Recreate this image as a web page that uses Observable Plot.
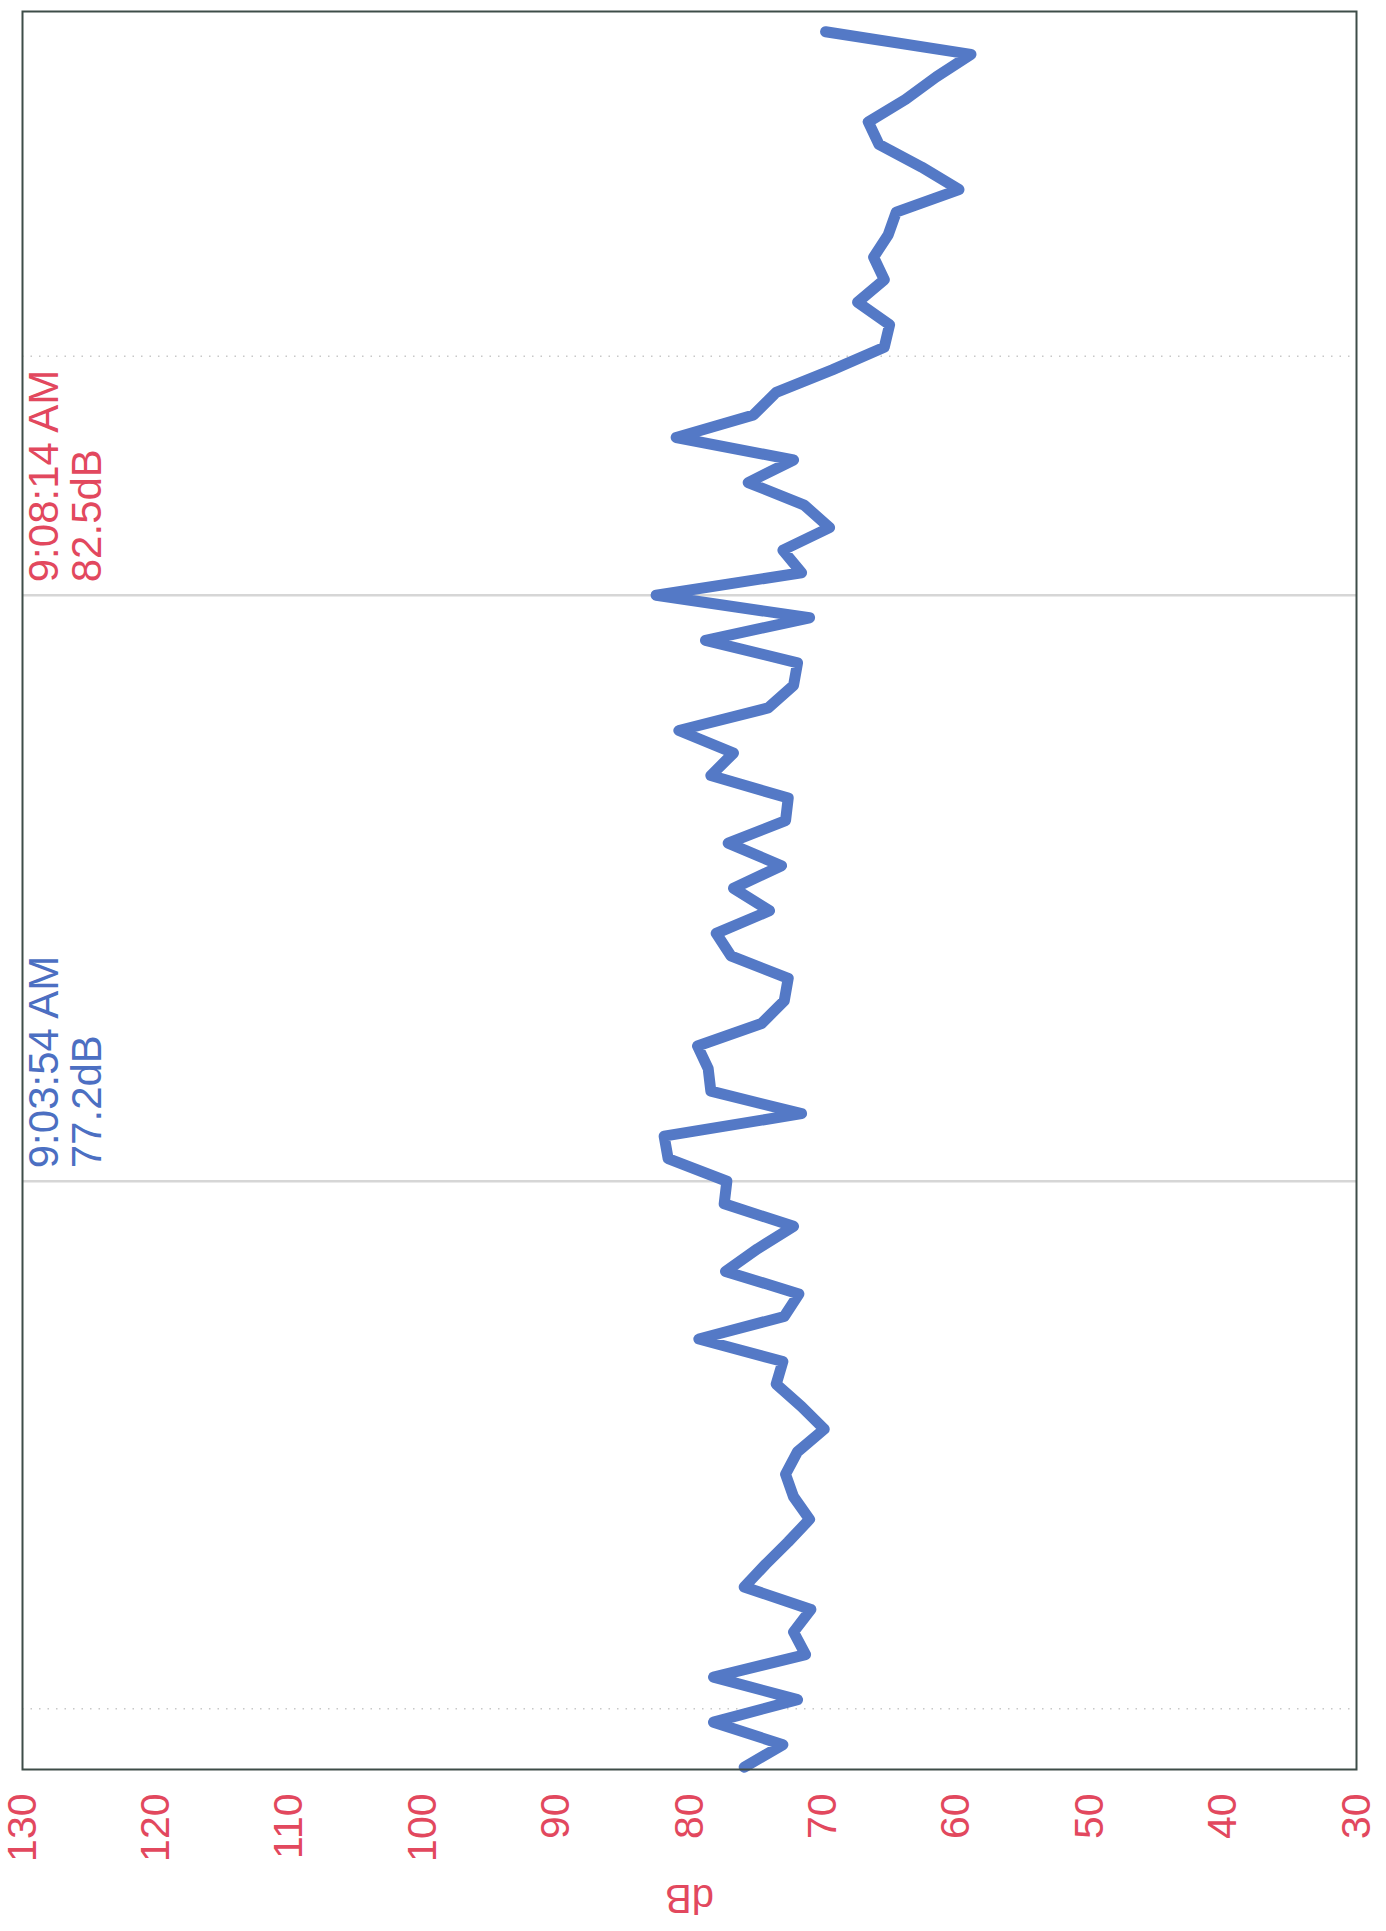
<!DOCTYPE html>
<html>
<head>
<meta charset="utf-8">
<script src="https://cdn.jsdelivr.net/npm/d3@7"></script>
<script src="https://cdn.jsdelivr.net/npm/@observablehq/plot@0.6"></script>
<style>
  html, body { margin: 0; padding: 0; background: #ffffff; }
  svg { display: block; }
</style>
</head>
<body>
<div id="chart"></div>
<script>
// Sample times (10-second readings), oldest first
const sampleTimes = [
  "08:59:34","08:59:44","08:59:54",
  "09:00:04","09:00:14","09:00:24","09:00:34","09:00:44","09:00:54",
  "09:01:04","09:01:14","09:01:24","09:01:34","09:01:44","09:01:54",
  "09:02:04","09:02:14","09:02:24","09:02:34","09:02:44","09:02:54",
  "09:03:04","09:03:14","09:03:24","09:03:34","09:03:44","09:03:54",
  "09:04:04","09:04:14","09:04:24","09:04:34","09:04:44","09:04:54",
  "09:05:04","09:05:14","09:05:24","09:05:34","09:05:44","09:05:54",
  "09:06:04","09:06:14","09:06:24","09:06:34","09:06:44","09:06:54",
  "09:07:04","09:07:14","09:07:24","09:07:34","09:07:44","09:07:54",
  "09:08:04","09:08:14","09:08:24","09:08:34","09:08:44","09:08:54",
  "09:09:04","09:09:14","09:09:24","09:09:34","09:09:44","09:09:54",
  "09:10:04","09:10:14","09:10:24","09:10:34","09:10:44","09:10:54",
  "09:11:04","09:11:14","09:11:24","09:11:34","09:11:44","09:11:54",
  "09:12:04","09:12:14","09:12:24"
];
// Sound level readings (dB), same order
const levels = [
  75.9, 73.0, 78.2,
  71.9, 78.2, 71.3, 72.2, 70.9, 75.9,
  74.3, 72.6, 71.0, 72.2, 72.8, 71.9,
  69.9, 71.6, 73.5, 73.0, 79.3, 72.9,
  71.8, 77.3, 74.9, 72.2, 77.4, 77.2,
  81.6, 81.9, 71.6, 78.4, 78.6, 79.4,
  74.6, 72.9, 72.6, 76.9, 78.0, 74.0,
  76.7, 73.1, 77.1, 72.8, 72.6, 78.4,
  76.7, 80.8, 74.1, 72.2, 71.9, 78.8,
  71.0, 82.5, 71.6, 73.0, 69.5, 71.4,
  75.6, 72.2, 81.0, 75.2, 73.5, 69.3,
  65.4, 65.0, 67.4, 65.4, 66.2, 65.1,
  64.5, 59.8, 62.6, 65.8, 66.6, 63.8,
  61.5, 58.9, 69.8
];
// dB axis ticks
const dbTicks = [130, 120, 110, 100, 90, 80, 70, 60, 50, 40, 30];
const dbDomain = [130, 30];
const timeDomain = ["08:59:33", "09:12:33"];
const gridTimes = ["09:00:00", "09:10:00"];
// Cursor markers
const markerTimes = ["09:03:54", "09:08:14"];
const markerLabels = ["9:03:54 AM\n77.2dB", "9:08:14 AM\n82.5dB"];
const markerColors = ["#4c6fc2", "#e2485e"];
const axisLabel = "dB";

const parseT = s => {
  const [h, m, sec] = s.split(":").map(Number);
  return new Date(2000, 0, 1, h, m, sec);
};
const data = sampleTimes.map((t, i) => ({time: parseT(t), db: levels[i]}));
const markers = markerTimes.map((t, i) => ({time: parseT(t), label: markerLabels[i], color: markerColors[i]}));

const tickColor = "#e2485e";

const chart = Plot.plot({
  width: 1386,
  height: 1931,
  marginLeft: 22,
  marginRight: 30,
  marginTop: 11,
  marginBottom: 162,
  style: {fontFamily: "'Liberation Sans', Arial, sans-serif", background: "#ffffff"},
  x: {domain: dbDomain, axis: null},
  y: {type: "time", domain: timeDomain.map(parseT), axis: null},
  color: {type: "identity"},
  marks: [
    Plot.ruleY(gridTimes.map(parseT), {stroke: "#9a9a9a", strokeWidth: 1.5, strokeDasharray: "1.5,7", strokeOpacity: 0.55}),
    Plot.ruleY(markers, {y: "time", stroke: "#d6d6d6", strokeWidth: 2.5}),
    Plot.line(data, {x: "db", y: "time", stroke: "#5479c6", strokeWidth: 11, strokeLinejoin: "round", strokeLinecap: "round"}),
    Plot.frame({stroke: "#3e4d48", strokeWidth: 2}),
    Plot.text(dbTicks, {
      x: d => d, text: d => String(d), frameAnchor: "bottom", dy: 24,
      rotate: -90, textAnchor: "end", lineAnchor: "middle",
      fill: tickColor, fontSize: 41
    }),
    Plot.text([axisLabel], {
      frameAnchor: "bottom", dy: 128, rotate: 180, textAnchor: "middle", lineAnchor: "middle",
      fill: tickColor, fontSize: 40
    }),
    Plot.text(markers, {
      y: "time", text: "label", frameAnchor: "left", dx: 5, dy: -13,
      rotate: -90, textAnchor: "start", lineAnchor: "top", lineHeight: 1.02,
      fill: "color", fontSize: 42
    })
  ]
});
document.getElementById("chart").appendChild(chart);
</script>
</body>
</html>
